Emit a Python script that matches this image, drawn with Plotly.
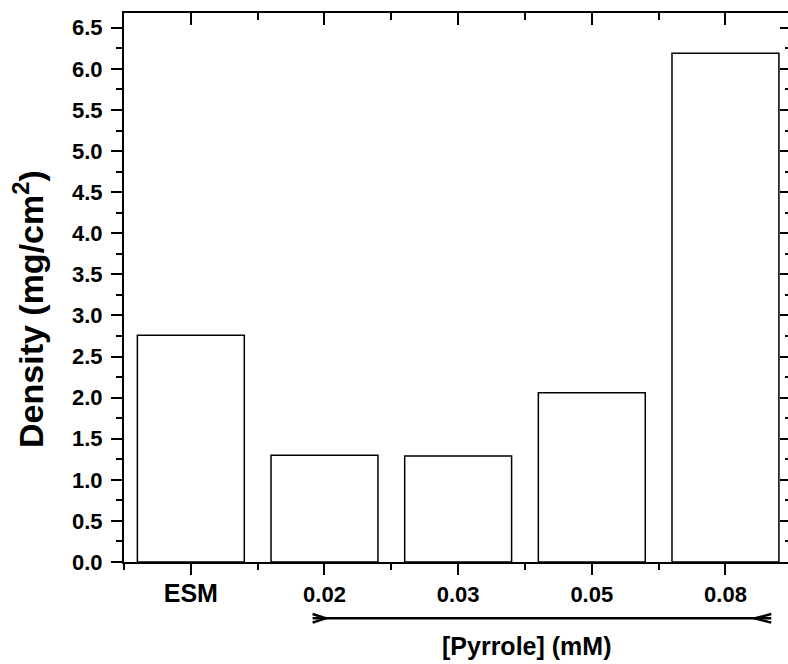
import plotly.graph_objects as go

categories = ["ESM", "0.02", "0.03", "0.05", "0.08"]
density = [2.76, 1.30, 1.29, 2.06, 6.19]
x_title = "[Pyrrole] (mM)"
y_title = "Density (mg/cm<sup>2</sup>)"

FONT = "Arial, Liberation Sans, Helvetica, sans-serif"
xpos = list(range(len(categories)))
ticktext = ["<span style='font-size:25px'>%s</span>" % c if c == "ESM" else c for c in categories]

fig = go.Figure()
fig.add_trace(go.Bar(
    x=xpos, y=density, width=0.8,
    marker=dict(color="white", line=dict(color="black", width=1.5)),
    showlegend=False, hoverinfo="x+y",
))
# helper invisible trace so the mirror (top/right) axes are drawn
fig.add_trace(go.Scatter(x=[xpos[0]], y=[0], xaxis="x2", yaxis="y2", mode="markers",
                         marker=dict(opacity=0), showlegend=False, hoverinfo="skip"))

XR = [-0.5, 4.468]
YR = [0, 6.68]
tickfont = dict(family=FONT, size=22, color="black", weight="bold")

fig.update_layout(
    width=788, height=664,
    margin=dict(l=124, r=0, t=13, b=102),
    plot_bgcolor="white", paper_bgcolor="white",
    bargap=0.2,
    xaxis=dict(range=XR, tickmode="array", tickvals=xpos, ticktext=ticktext,
               showline=True, linewidth=2, linecolor="black",
               ticks="outside", ticklen=11, tickwidth=2, tickcolor="black",
               minor=dict(tickmode="array", tickvals=[i - 0.5 for i in xpos],
                          ticks="outside", ticklen=6, tickwidth=2, tickcolor="black"),
               showgrid=False, zeroline=False, tickfont=tickfont, ticklabelstandoff=1),
    yaxis=dict(range=YR, dtick=0.5, tick0=0, tickformat=".1f",
               showline=True, linewidth=2, linecolor="black",
               ticks="outside", ticklen=11, tickwidth=2, tickcolor="black",
               minor=dict(dtick=0.25, ticks="outside", ticklen=6, tickwidth=2, tickcolor="black"),
               showgrid=False, zeroline=False, ticklabelstandoff=4,
               tickfont=dict(family=FONT, size=22, color="black", weight="bold")),
    xaxis2=dict(range=XR, overlaying="x", side="top", anchor="y2", matches="x",
                tickmode="array", tickvals=xpos, showticklabels=False,
                showline=True, linewidth=2, linecolor="black",
                ticks="inside", ticklen=12, tickwidth=2, tickcolor="black",
                minor=dict(tickmode="array", tickvals=[i - 0.5 for i in xpos],
                           ticks="inside", ticklen=7, tickwidth=2, tickcolor="black"),
                showgrid=False, zeroline=False),
    yaxis2=dict(range=YR, overlaying="y", side="right", anchor="x2", matches="y",
                dtick=0.5, tick0=0, showticklabels=False, showline=False,
                ticks="inside", ticklen=8, tickwidth=2, tickcolor="black",
                minor=dict(dtick=0.25, ticks="inside", ticklen=3, tickwidth=2, tickcolor="black"),
                showgrid=False, zeroline=False),
)

# bracket arrow under the pyrrole concentrations
AL, AL2, AR2, AR = 0.911, 1.010, 4.219, 4.343
AY, AH = -0.1026, 0.0078
line_style = dict(color="black", width=2.5)
fig.add_shape(type="line", xref="x", yref="paper", x0=AL, x1=AR, y0=AY, y1=AY, line=line_style)
fig.add_shape(type="path", xref="x", yref="paper",
              path=f"M {AL},{AY + AH} L {AL2},{AY} L {AL},{AY - AH}", line=line_style)
fig.add_shape(type="path", xref="x", yref="paper",
              path=f"M {AR},{AY + AH} L {AR2},{AY} L {AR},{AY - AH}", line=line_style)

fig.add_annotation(text=x_title, xref="x", yref="paper", x=2.515, y=-0.153,
                   xanchor="center", yanchor="middle", showarrow=False,
                   font=dict(family=FONT, size=25, color="black", weight="bold"))
fig.add_annotation(text=y_title, xref="paper", yref="paper", x=-0.143, y=0.461,
                   xanchor="center", yanchor="middle", showarrow=False, textangle=-90,
                   font=dict(family=FONT, size=34, color="black", weight="bold"))

fig.write_html("out.html", config={"displayModeBar": False},
               post_script="document.body.style.margin='0px';document.body.style.overflow='hidden';")
